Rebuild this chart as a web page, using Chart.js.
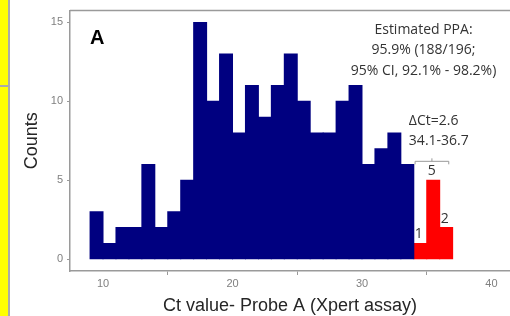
<!DOCTYPE html>
<html>
<head>
<meta charset="utf-8">
<script src="https://cdn.jsdelivr.net/npm/chart.js@4"></script>
<style>
    html, body { margin: 0; padding: 0; background: #fff; }
    #wrap { position: relative; width: 510px; height: 316px; overflow: hidden; }
    #strip { position: absolute; left: 0; top: 0; width: 8px; height: 316px; background: #ffff00; border-right: 2px solid #aaa; }
    #stripLine { position: absolute; left: 0; top: 85px; width: 8px; height: 2px; background: #aaa; }
    #histChart { position: absolute; left: 0; top: 0; }
</style>
</head>
<body>
<div id="wrap">
    <div id="strip"></div>
    <div id="stripLine"></div>
    <canvas id="histChart" width="510" height="316"></canvas>
</div>
<script>
    // Ct bins (lower edge, width 1) and counts
    var blueBins = [9, 10, 11, 12, 13, 14, 15, 16, 17, 18, 19, 20, 21, 22, 23, 24, 25, 26, 27, 28, 29, 30, 31, 32, 33];
    var blueCounts = [3, 1, 2, 2, 6, 2, 3, 5, 15, 10, 13, 8, 11, 9, 11, 13, 10, 8, 8, 10, 11, 6, 7, 8, 6];
    var redBins = [34, 35, 36];
    var redCounts = [1, 5, 2];
    // axis ticks
    var xTicks = [10, 20, 30, 40];
    var yTicks = [0, 5, 10, 15];
    // annotation text
    var ppaLines = ['Estimated PPA:', '95.9% (188/196;', '95% CI, 92.1% - 98.2%)'];
    var deltaLines = ['\u0394Ct=2.6', '34.1-36.7'];
    var bracketRange = [34.1, 36.7];

    function toPoints(bins, counts) {
        return bins.map(function (b, i) { return { x: b + 0.5, y: counts[i] }; });
    }

    //plugin for the frame, panel letter and text notes
    var notesPlugin = {
        id: 'notes',
        afterDatasetsDraw: function (chart) {
            var c = chart.ctx, x = chart.scales.x, y = chart.scales.y, a = chart.chartArea;
            c.save();
            // top frame line
            c.strokeStyle = '#9a9a9a';
            c.lineWidth = 1.5;
            c.beginPath();
            c.moveTo(a.left, a.top);
            c.lineTo(a.right, a.top);
            c.stroke();

            c.fillStyle = '#000';
            c.font = 'bold 20px "Liberation Sans", Arial, sans-serif';
            c.textBaseline = 'middle';
            c.textAlign = 'left';
            c.fillText('A', x.getPixelForValue(9.0), y.getPixelForValue(14.0));

            c.fillStyle = '#333';
            c.font = '14px "Open Sans", sans-serif';
            c.textAlign = 'center';
            ppaLines.forEach(function (t, i) {
                c.fillText(t, x.getPixelForValue(34.75), y.getPixelForValue(14.55) + i * 20.8);
            });
            c.textAlign = 'left';
            deltaLines.forEach(function (t, i) {
                c.fillText(t, x.getPixelForValue(33.62), y.getPixelForValue(8.75) + i * 19.5);
            });

            // bracket over the red bins
            var bx1 = x.getPixelForValue(bracketRange[0]), bx2 = x.getPixelForValue(bracketRange[1]);
            var by = y.getPixelForValue(6.2);
            var mid = (bx1 + bx2) / 2;
            c.strokeStyle = '#999';
            c.lineWidth = 1;
            c.beginPath();
            c.moveTo(bx1, by + 3); c.lineTo(bx1, by); c.lineTo(bx2, by); c.lineTo(bx2, by + 3);
            c.moveTo(mid, by); c.lineTo(mid, by - 3);
            c.stroke();

            // counts above the red bars
            var meta = chart.getDatasetMeta(1);
            c.fillStyle = '#333';
            c.textAlign = 'center';
            meta.data.forEach(function (bar, i) {
                c.fillText(String(redCounts[i]), bar.x - 1.5, bar.y - 9);
            });
            c.restore();
        }
    };

    var ctx = document.getElementById('histChart').getContext('2d');
    var histChart = new Chart(ctx, {
        type: 'bar',
        data: {
            datasets: [{
                label: 'Detected',
                data: toPoints(blueBins, blueCounts),
                backgroundColor: '#000080'
            }, {
                label: 'Missed',
                data: toPoints(redBins, redCounts),
                backgroundColor: '#ff0000'
            }]
        },
        options: {
            responsive: false,
            animation: false,
            layout: { padding: { left: 0, right: 0, top: 6, bottom: 0 } },
            datasets: {
                bar: {
                    grouped: false,
                    barPercentage: 1,
                    categoryPercentage: 1,
                    borderWidth: 0,
                    inflateAmount: 0.5
                }
            },
            plugins: {
                legend: { display: false },
                tooltip: { enabled: false }
            },
            scales: {
                x: {
                    type: 'linear',
                    offset: false,
                    min: 7.45,
                    max: 41.43,
                    afterBuildTicks: function (s) { s.ticks = xTicks.map(function (v) { return { value: v }; }); },
                    afterFit: function (s) { s.height = 45; },
                    grid: { drawOnChartArea: false, drawTicks: true, tickLength: 4, color: '#999' },
                    border: { display: true, color: '#9a9a9a', width: 1.5 },
                    ticks: {
                        padding: 2,
                        maxRotation: 0,
                        color: '#808080',
                        font: { family: '"Liberation Sans", Arial, sans-serif', size: 11 }
                    },
                    title: {
                        display: true,
                        text: 'Ct value- Probe A (Xpert assay)',
                        color: '#262626',
                        padding: { top: 0, bottom: 1 },
                        font: { family: '"Liberation Sans", Arial, sans-serif', size: 18, lineHeight: 1 }
                    }
                },
                y: {
                    min: -0.75,
                    max: 15.75,
                    afterBuildTicks: function (s) { s.ticks = yTicks.map(function (v) { return { value: v }; }); },
                    afterFit: function (s) { s.width = 70; },
                    grid: { drawOnChartArea: false, drawTicks: true, tickLength: 3, color: '#999' },
                    border: { display: true, color: '#9a9a9a', width: 1.5 },
                    ticks: {
                        padding: 4,
                        color: '#808080',
                        font: { family: '"Liberation Sans", Arial, sans-serif', size: 11 }
                    },
                    title: {
                        display: true,
                        text: 'Counts',
                        color: '#262626',
                        padding: { top: 23, bottom: 0 },
                        font: { family: '"Liberation Sans", Arial, sans-serif', size: 18, lineHeight: 1 }
                    }
                }
            }
        },
        plugins: [notesPlugin]
    });
</script>
</body>
</html>
